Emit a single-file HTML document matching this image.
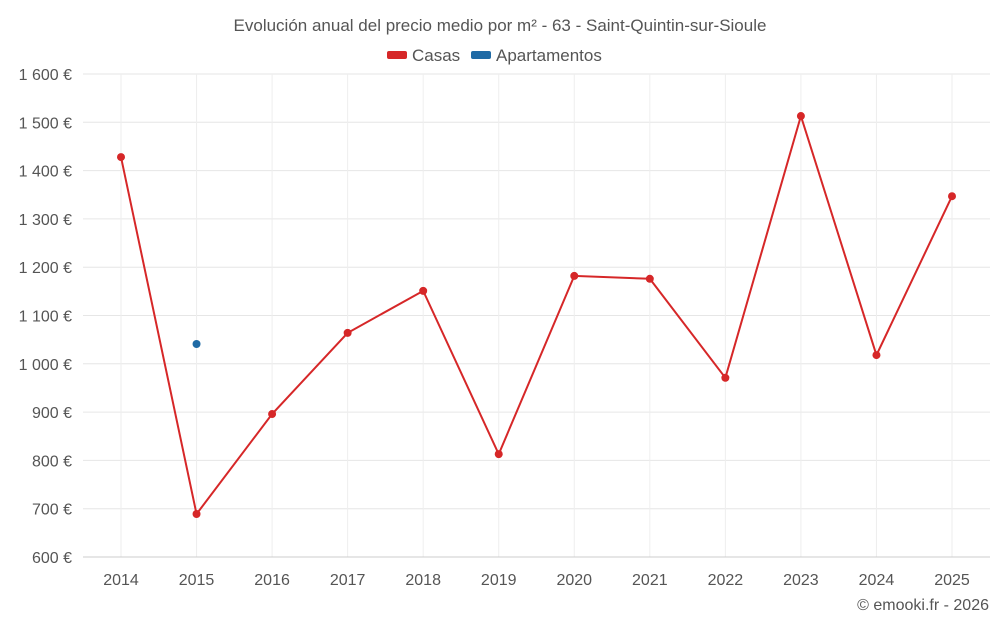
<!DOCTYPE html>
<html><head><meta charset="utf-8"><style>
body{margin:0;background:#fff;font-family:"Liberation Sans",sans-serif;}
svg text{font-family:"Liberation Sans",sans-serif;fill:#555;}
</style></head><body>
<svg id="chart" width="1000" height="625">
<text x="500" y="31" text-anchor="middle" font-size="17">Evolución anual del precio medio por m² - 63 - Saint-Quintin-sur-Sioule</text>
<g>
<g><rect x="387" y="51" width="20" height="8" rx="2" fill="#d62728"/><text x="412" y="61" font-size="17">Casas</text></g>
<g><rect x="471" y="51" width="20" height="8" rx="2" fill="#1f6aa5"/><text x="496" y="61" font-size="17">Apartamentos</text></g>
</g>
<g id="grid"></g><g id="axes"></g><g id="series"></g>
<text x="989" y="610" text-anchor="end" font-size="16">© emooki.fr - 2026</text>
</svg>
<script>
const years=[2014,2015,2016,2017,2018,2019,2020,2021,2022,2023,2024,2025];
const casas=[1428,689,896,1064,1151,813,1182,1176,971,1513,1018,1347];
const apartamentos=[null,1041,null,null,null,null,null,null,null,null,null,null];
const yTicks=[600,700,800,900,1000,1100,1200,1300,1400,1500,1600];
const NS="http://www.w3.org/2000/svg";
const L=83,R=990,T=74,B=557;
const y=v=>B-(v-600)/1000*(B-T);
const x=i=>121+i*(952-121)/(years.length-1);
function mk(p,t,a){const e=document.createElementNS(NS,t);for(const k in a)e.setAttribute(k,a[k]);document.getElementById(p).appendChild(e);return e;}
yTicks.forEach(v=>{
 const g=mk('grid','line',{x1:L,x2:R,y1:y(v),y2:y(v),stroke:'#e6e6e6'});
 
 
 const t=mk('axes','text',{x:72,y:y(v)+6,'text-anchor':'end','font-size':16});
 t.textContent=(v>=1000?Math.floor(v/1000)+' '+String(v%1000).padStart(3,'0'):v)+' €';
 
 
});
years.forEach((yr,i)=>{
 const g=mk('grid','line',{x1:x(i),x2:x(i),y1:T,y2:B,stroke:'#eeeeee'});
 
 
 const t=mk('axes','text',{x:x(i),y:585,'text-anchor':'middle','font-size':16});
 t.textContent=yr;
 
 
});
const ax=mk('axes','line',{x1:L,x2:R,y1:B,y2:B,stroke:'#ccc'});


const pl=mk('series','polyline',{points:casas.map((v,i)=>x(i)+','+y(v)).join(' '),fill:'none',stroke:'#d62728','stroke-width':2});


casas.forEach((v,i)=>{
 const c=mk('series','circle',{cx:x(i),cy:y(v),r:4,fill:'#d62728'});
 
 
});
apartamentos.forEach((v,i)=>{
 if(v==null)return;
 const c=mk('series','circle',{cx:x(i),cy:y(v),r:4,fill:'#1f6aa5'});
 
 
});
</script>
</body></html>
